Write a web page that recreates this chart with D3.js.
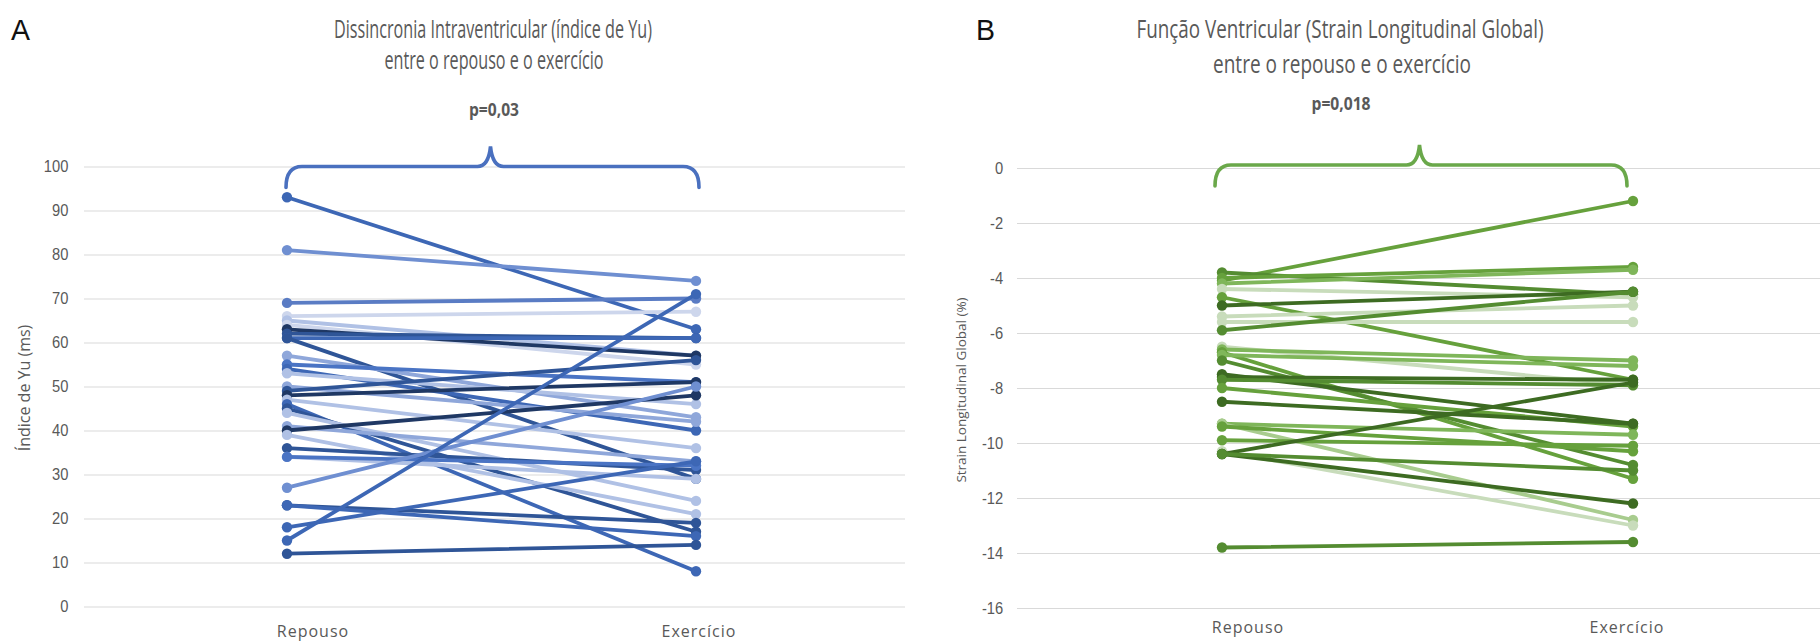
<!DOCTYPE html>
<html>
<head>
<meta charset="utf-8">
<script src="https://cdn.jsdelivr.net/npm/d3@7"></script>
<style>
  html, body { margin: 0; padding: 0; background: #fff; }
  svg { display: block; font-family: "Open Sans", "Noto Sans", sans-serif; }
</style>
</head>
<body>
<svg id="chart" width="1820" height="641"></svg>
<script>
// categories shared by both panels
const categories = ["Repouso", "Exercício"];

// Panel A - índice de Yu (ms), one entry per patient
const yuRepouso  = [93, 81, 69, 66, 65, 64, 63, 62, 61, 61, 57, 55, 54, 53, 50, 49, 48, 47, 46, 45, 44, 41, 40, 39, 36, 34, 34, 27, 23, 23, 18, 15, 12];
const yuExercicio = [63, 74, 70, 67, 57, 55, 57, 61, 61, 29, 43, 51, 40, 46, 42, 56, 51, 36, 8, 17, 24, 33, 48, 21, 31, 29, 32, 50, 19, 16, 33, 71, 14];
const yuTicks = [0, 10, 20, 30, 40, 50, 60, 70, 80, 90, 100];

// Panel B - strain longitudinal global (%)
const slgRepouso  = [-4.1, -3.8, -4.0, -4.2, -4.4, -4.7, -5.0, -5.4, -5.6, -5.9, -6.5, -6.6, -6.7, -6.8, -7.0, -7.5, -7.6, -7.7, -8.0, -8.5, -9.3, -9.3, -9.4, -9.9, -10.3, -10.4, -10.4, -10.4, -13.8];
const slgExercicio = [-1.2, -4.6, -3.6, -3.7, -4.7, -7.7, -4.5, -5.0, -5.6, -4.5, -7.9, -7.0, -11.3, -7.2, -10.8, -9.3, -7.7, -7.9, -9.4, -9.3, -9.7, -12.8, -10.3, -10.1, -13.0, -12.2, -7.8, -11.0, -13.6];
const slgTicks = [0, -2, -4, -6, -8, -10, -12, -14, -16];

// line shades (styling only)
const blues = ["#3d67b5", "#6f8fd1", "#5a7cc4", "#cdd6ec", "#b0c1e5", "#cdd6ec", "#1f3864", "#2f5597", "#3d67b5", "#2f5597",
               "#8fa7da", "#4a74c4", "#3d67b5", "#b0c1e5", "#8fa7da", "#2f5597", "#1f3864", "#b0c1e5", "#3d67b5", "#2f5597",
               "#b0c1e5", "#8fa7da", "#1f3864", "#b0c1e5", "#2f5597", "#b0c1e5", "#4a74c4", "#6f8fd1", "#2f5597", "#3d67b5",
               "#3d67b5", "#3d67b5", "#2f5597"];
const greens = ["#66a13c", "#548c31", "#66a13c", "#7fb65a", "#c8dcbb", "#66a13c", "#3d6b22", "#c8dcbb", "#c8dcbb", "#548c31",
                "#c8dcbb", "#7fb65a", "#66a13c", "#7fb65a", "#548c31", "#3d6b22", "#3d6b22", "#548c31", "#66a13c", "#3d6b22",
                "#7fb65a", "#a8cc8e", "#66a13c", "#66a13c", "#c8dcbb", "#3d6b22", "#3d6b22", "#548c31", "#548c31"];

const svg = d3.select("#chart");
const textGrey = "#595959";

function drawPanel(p) {
  const g = svg.append("g");

  const x = d3.scalePoint().domain(categories).range(p.pointRange);
  const xLabel = d3.scalePoint().domain(categories).range(p.labelRange);
  const y = d3.scaleLinear().domain(p.domain).range(p.yRange);

  // gridlines + tick labels
  const yAxis = d3.axisLeft(y)
    .tickValues(p.ticks)
    .tickSize(-(p.gridX1 - p.gridX0))
    .tickPadding(p.tickPad)
    .tickFormat(d3.format("d"));
  const ax = g.append("g")
    .attr("transform", `translate(${p.gridX0},0)`)
    .call(yAxis);
  ax.select(".domain").remove();
  ax.selectAll(".tick line").attr("stroke", "#d9d9d9").attr("stroke-width", 1.2);
  ax.selectAll(".tick text")
    .attr("fill", textGrey)
    .style("font-size", "16px")
    .attr("transform", "scale(0.92,1)")
    .text(d => d < 0 ? "-" + Math.abs(d) : d);

  // category labels
  g.selectAll("text.cat")
    .data(categories)
    .join("text")
    .attr("class", "cat")
    .attr("x", d => xLabel(d))
    .attr("y", p.catY)
    .attr("text-anchor", "middle")
    .attr("fill", textGrey)
    .style("font-size", "16px")
    .style("letter-spacing", "1px")
    .text(d => d);

  // y axis title
  g.append("text")
    .attr("transform", `translate(${p.yTitleX},${p.yTitleY}) rotate(-90)`)
    .attr("text-anchor", "middle")
    .attr("fill", textGrey)
    .style("font-size", p.yTitleSize)
    .text(p.yTitle);

  // paired lines
  const series = p.rep.map((v, i) => ({ values: [v, p.exe[i]], color: p.colors[i] }));
  const line = d3.line().x((d, i) => x(categories[i])).y(d => y(d));

  const sg = g.selectAll("g.series")
    .data(series)
    .join("g")
    .attr("class", "series");

  sg.append("path")
    .attr("d", d => line(d.values))
    .attr("fill", "none")
    .attr("stroke", d => d.color)
    .attr("stroke-width", 3.8)
    .attr("stroke-linecap", "round");

  sg.selectAll("circle")
    .data(d => d.values.map((v, i) => ({ v, cat: categories[i], color: d.color })))
    .join("circle")
    .attr("cx", d => x(d.cat))
    .attr("cy", d => y(d.v))
    .attr("r", 5.2)
    .attr("fill", d => d.color);

  // brace over the two groups
  const bx0 = x(categories[0]) - p.braceInset, bx1 = x(categories[1]) + p.braceOut;
  const by = y(p.domain[1]) - p.braceLift;
  const bm = (x(categories[0]) + x(categories[1])) / 2 + p.braceShift;
  const r = 16;
  const brace = d3.path();
  brace.moveTo(bx0, by + 21);
  brace.quadraticCurveTo(bx0, by, bx0 + r, by);
  brace.lineTo(bm - 13, by);
  brace.quadraticCurveTo(bm - 2, by, bm, by - 20);
  brace.quadraticCurveTo(bm + 2, by, bm + 13, by);
  brace.lineTo(bx1 - r, by);
  brace.quadraticCurveTo(bx1, by, bx1, by + 21);
  g.append("path")
    .attr("d", brace.toString())
    .attr("fill", "none")
    .attr("stroke", p.braceColor)
    .attr("stroke-width", 3.6)
    .attr("stroke-linecap", "round");

  // titles
  p.titles.forEach(t => {
    g.append("text")
      .attr("x", t.x)
      .attr("y", t.y)
      .attr("text-anchor", "middle")
      .attr("fill", textGrey)
      .attr("textLength", t.w)
      .attr("lengthAdjust", "spacingAndGlyphs")
      .style("font-size", t.size)
      .style("font-weight", t.bold ? "700" : "400")
      .text(t.text);
  });

  g.append("text")
    .attr("x", p.letterX)
    .attr("y", 40)
    .attr("fill", "#111")
    .style("font-size", "29px")
    .attr("textLength", 19)
    .attr("lengthAdjust", "spacingAndGlyphs")
    .style("font-family", "'Liberation Sans', Arial, sans-serif")
    .text(p.letter);
}

drawPanel({
  letter: "A", letterX: 11,
  rep: yuRepouso, exe: yuExercicio, colors: blues,
  domain: [0, 100], ticks: yuTicks, yRange: [606.5, 166.5],
  pointRange: [287, 696], labelRange: [313, 699],
  gridX0: 84, gridX1: 905, tickPad: 17, catY: 637,
  yTitle: "Índice de Yu (ms)", yTitleX: 30, yTitleY: 388, yTitleSize: "16px",
  braceColor: "#4a70bf", braceInset: 1, braceOut: 3, braceLift: 0, braceShift: -1,
  titles: [
    { text: "Dissincronia Intraventricular (índice de Yu)", x: 493, y: 38, w: 318, size: "25px" },
    { text: "entre o repouso e o exercício", x: 494, y: 69, w: 219, size: "25px" },
    { text: "p=0,03", x: 494, y: 116, w: 50, size: "18px", bold: true }
  ]
});

drawPanel({
  letter: "B", letterX: 976,
  rep: slgRepouso, exe: slgExercicio, colors: greens,
  domain: [-16, 0], ticks: slgTicks, yRange: [608, 168],
  pointRange: [1222, 1633], labelRange: [1248, 1627],
  gridX0: 1017, gridX1: 1820, tickPad: 15, catY: 633,
  yTitle: "Strain Longitudinal Global (%)", yTitleX: 966, yTitleY: 390, yTitleSize: "13.5px",
  braceColor: "#6aa84a", braceInset: 7, braceOut: -6, braceLift: 3, braceShift: -8,
  titles: [
    { text: "Função Ventricular (Strain Longitudinal Global)", x: 1340, y: 38, w: 407, size: "25px" },
    { text: "entre o repouso e o exercício", x: 1342, y: 73, w: 258, size: "25px" },
    { text: "p=0,018", x: 1341, y: 110, w: 59, size: "18px", bold: true }
  ]
});
</script>
</body>
</html>
